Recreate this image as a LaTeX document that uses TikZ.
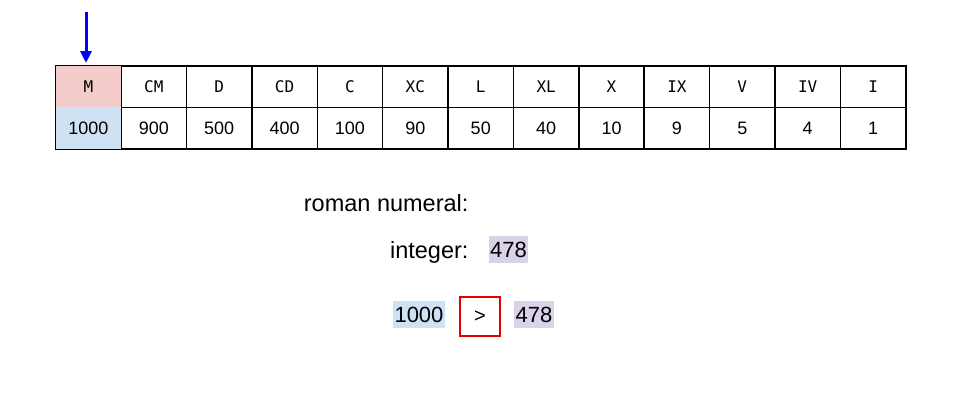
\documentclass[tikz,border=0pt]{standalone}
\usepackage{fontspec}
\setmainfont{Liberation Sans}
\newfontfamily\monof{DejaVu Sans Mono}
\usetikzlibrary{arrows.meta}
\definecolor{pinkc}{HTML}{F4CCCC}
\definecolor{bluec}{HTML}{CFE2F3}
\definecolor{purpc}{HTML}{D9D2E9}
\definecolor{redc}{HTML}{E00000}
\begin{document}
\begin{tikzpicture}[x=1pt,y=-1pt,
  cellbox/.style={draw=black,line width=1.5pt,minimum width=65.385pt,minimum height=41.5pt,inner sep=0pt,anchor=north west},
  romtxt/.style={font=\monof\fontsize{16}{19}\selectfont},
  numtxt/.style={font=\fontsize{18}{21}\selectfont},
  bigtxt/.style={font=\fontsize{23.5}{27}\selectfont},
  hltxt/.style={font=\fontsize{22}{26}\selectfont},
  hlbox/.style={hltxt,inner sep=0pt,minimum height=27pt}]
\useasboundingbox (0,0) rectangle (960,400);
\def\romlist{M,CM,D,CD,C,XC,L,XL,X,IX,V,IV,I}
\def\numlist{1000,900,500,400,100,90,50,40,10,9,5,4,1}
\foreach \r [count=\i from 0] in \romlist {
  \node[cellbox,romtxt] (r\i) at ({55+\i*65.385},65) {\r};
}
\foreach \n [count=\i from 0] in \numlist {
  \node[cellbox,numtxt] (n\i) at ({55+\i*65.385},106.5) {\n};
}
\fill[pinkc] ([shift={(0.75pt,-0.75pt)}]r0.north west) rectangle ([shift={(-0.75pt,0.75pt)}]r0.south east);
\node[romtxt] at (r0) {M};
\fill[bluec] ([shift={(0.75pt,-0.75pt)}]n0.north west) rectangle ([shift={(-0.75pt,0.75pt)}]n0.south east);
\node[numtxt] at (n0) {1000};
\coordinate (arrtop) at (86,12);
\draw[blue,line width=3pt,-{Triangle[length=12pt,width=11pt]}] (arrtop) -- (86,63);
\node[bigtxt,anchor=base east] (lblroman) at (472,211) {roman numeral:};
\node[bigtxt,anchor=base east] (lblint) at (472,258) {integer:};
\node[hlbox,fill=purpc,minimum width=39pt] (intval) at (508.5,249.5) {478};
\node[hlbox,fill=bluec,minimum width=52pt] (cmpa) at (419,314.5) {1000};
\node[draw=redc,line width=2pt,minimum width=40pt,minimum height=39pt,inner sep=0pt,font=\fontsize{20}{24}\selectfont] (cmpop) at (480,316.5) {>};
\node[hlbox,fill=purpc,minimum width=40pt] (cmpb) at (534,314.5) {478};
\end{tikzpicture}
\end{document}
